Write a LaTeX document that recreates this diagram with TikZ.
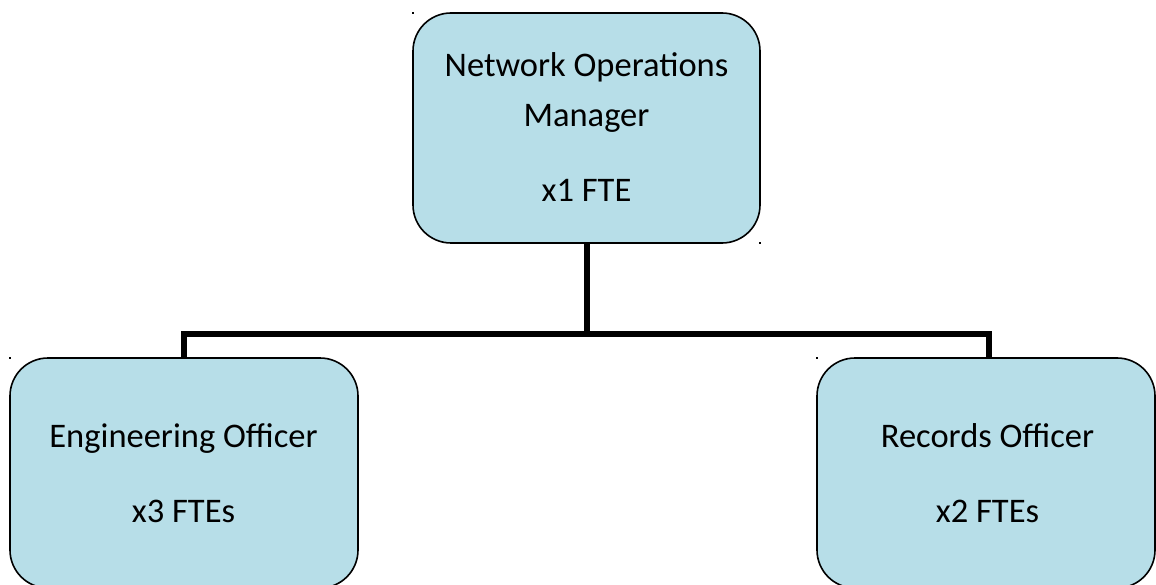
\documentclass[tikz,border=0pt]{standalone}
\usepackage{fontspec}
\setmainfont{Carlito}
\definecolor{boxfill}{HTML}{B7DEE8}
\begin{document}
\begin{tikzpicture}[x=1pt,y=-1pt,
  rolebox/.style={draw=black,line width=1.6pt,fill=boxfill,rounded corners=38pt,
    rectangle,outer sep=0pt,inner sep=0pt},
  roletext/.style={anchor=base,inner sep=0pt,font=\fontsize{34.5}{41}\selectfont},
  conn/.style={draw=black,line width=6pt},
  tick/.style={fill=black,minimum size=2pt,inner sep=0pt,outer sep=0pt,rectangle}]
\useasboundingbox (0,0) rectangle (1156,585);
\begin{scope}
\clip (0,0) rectangle (1156,585);
% connectors (behind the boxes)
\coordinate (busL) at (184,334);
\coordinate (topS) at (586.5,243);
\coordinate (leftN) at (184,358);
\coordinate (rightN) at (989,358);
\draw[conn] (topS) -- (topS |- busL);
\draw[conn] (leftN) -- (busL) -| (rightN);
% role boxes
\node[rolebox,minimum width=347,minimum height=230] (mgr) at (586.5,128) {};
\node[rolebox,minimum width=348,minimum height=230] (eng) at (184,473) {};
\node[rolebox,minimum width=338,minimum height=230] (rec) at (986,473) {};
% texts
\node[roletext] (mgr1) at (586.5,77) {Network Operations};
\node[roletext] (mgr2) at (586.5,127) {Manager};
\node[roletext] (mgr3) at (586.5,202) {x1 FTE};
\node[roletext] (eng1) at (183.5,447) {Engineering Officer};
\node[roletext] (eng2) at (183.5,522) {x3 FTEs};
\node[roletext] (rec1) at (987.5,447) {Records Officer};
\node[roletext] (rec2) at (987.5,522) {x2 FTEs};
% small corner marks
\node[tick] (t1) at (mgr.north west) {};
\node[tick] (t2) at (mgr.south east) {};
\node[tick] (t3) at (eng.north west) {};
\node[tick] (t4) at (rec.north west) {};
\end{scope}
\end{tikzpicture}
\end{document}
